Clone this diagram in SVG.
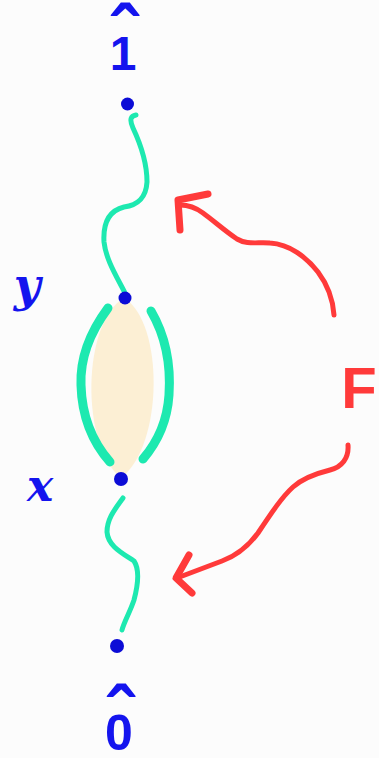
<svg xmlns="http://www.w3.org/2000/svg" width="379" height="758" viewBox="0 0 379 758">
<style>
.lbl{fill:#1414ee;font-family:"Liberation Sans",Arial,sans-serif;font-weight:bold}
.var{fill:#1414ee;font-family:"DejaVu Serif",serif;font-style:italic;font-weight:bold}
.dot{fill:#0c0cd6}
.chain{fill:none;stroke:#1de9b0;stroke-width:5;stroke-linecap:round;stroke-linejoin:round}
.side{fill:none;stroke:#1de9b0;stroke-width:9;stroke-linecap:round}
.arrow{fill:none;stroke:#ff3a3a;stroke-width:5;stroke-linecap:round;stroke-linejoin:round}
.head{fill:none;stroke:#ff3a3a;stroke-width:7;stroke-linecap:round;stroke-linejoin:round}
</style>
<rect width="379" height="758" fill="#fcfcfc"/>
<g id="interval">
<path d="M124,298 C164,322 164,445 121,478 C80,445 82,322 124,298 Z" fill="#fcefd4"/>
<path class="side" d="M108,308 C88,335 80,360 81,385 C82,420 95,445 110,462"/>
<path class="side" d="M151,311 C165,335 171,365 169,395 C167,425 155,445 143,459"/>
</g>
<g id="connectors">
<path class="chain" d="M136,115 C131,116 129,119 133,128 C141,145 147,165 147,182 C146,198 138,205 124,207 C108,211 103,225 104,242 C106,260 117,277 125,293"/>
<path class="chain" d="M123,498 C116,508 107,518 107,532 C108,546 122,553 134,561 C140,570 138,585 134,600 C130,612 124,622 122,630"/>
<path class="arrow" d="M334,315 C333,300 327,284 318,272 C307,258 290,244 270,243 C257,242 247,245 237,239 C225,231 214,221 203,213 C195,207 187,205 180,205"/>
<path class="head" d="M208,194 L178,200 L180,230"/>
<path class="arrow" d="M348,445 C349,458 342,467 330,470 C318,473 303,478 293,487 C282,497 272,512 258,533 C247,548 236,556 222,561 C206,567 190,573 177,578"/>
<path class="head" d="M189,555 L176,578 L192,593"/>
</g>
<g id="top">
<text class="lbl" text-anchor="middle"><tspan x="124" y="62" font-size="80">ˆ</tspan><tspan x="123" y="70" font-size="48">1</tspan></text>
<circle class="dot" cx="127.5" cy="104" r="6.5"/>
</g>
<g id="y">
<text class="var" x="27" y="301" font-size="46" text-anchor="middle">y</text>
<circle class="dot" cx="125" cy="298" r="6.5"/>
</g>
<g id="x">
<text class="var" x="40" y="501" font-size="44" text-anchor="middle">x</text>
<circle class="dot" cx="121" cy="479" r="7"/>
</g>
<g id="bottom">
<circle class="dot" cx="117" cy="646" r="7"/>
<text class="lbl" text-anchor="middle"><tspan x="120" y="743" font-size="80">ˆ</tspan><tspan x="119" y="750" font-size="50">0</tspan></text>
</g>
<g id="F">
<text x="359" y="408" font-size="58" text-anchor="middle" fill="#ff3a3a" font-family="Liberation Sans, Arial, sans-serif" font-weight="bold">F</text>
</g>
</svg>
